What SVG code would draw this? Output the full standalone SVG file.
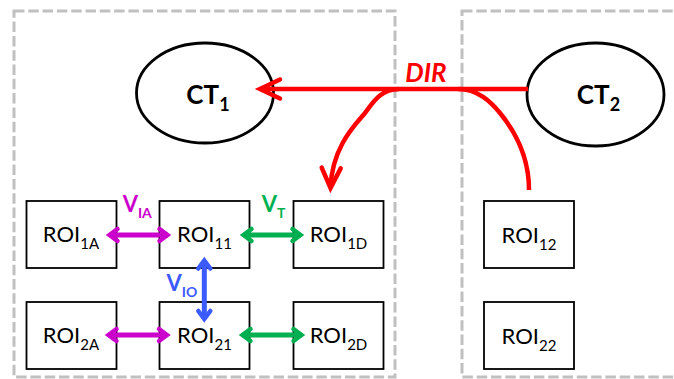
<svg xmlns="http://www.w3.org/2000/svg" width="674" height="379" viewBox="0 0 674 379">
  <style>
    .frame { fill: none; stroke: #c0c0c0; stroke-width: 3; stroke-dasharray: 10.5 3.8; }
    .ct { fill: #ffffff; stroke: #000000; stroke-width: 2.8; }
    .roi { fill: #ffffff; stroke: #000000; stroke-width: 1.8; }
    .ctlab { font-family: Lato, "Liberation Sans", sans-serif; font-weight: bold; font-size: 26px; fill: #000000; }
    .roilab { font-family: Lato, "Liberation Sans", sans-serif; font-size: 22px; fill: #000000; }
    .vlab { font-family: Lato, "Liberation Sans", sans-serif; font-weight: bold; font-size: 22px; }
    .dir { font-family: Lato, "Liberation Sans", sans-serif; font-weight: bold; font-style: italic; font-size: 26px; fill: #ff0000; }
    .red { fill: none; stroke: #ff0000; stroke-width: 4.5; }
    .mag { fill: none; stroke: #cc00cc; stroke-width: 5; }
    .grn { fill: none; stroke: #00b050; stroke-width: 5; }
    .blu { fill: none; stroke: #3b5bff; stroke-width: 5; }
  </style>
  <defs>
    <marker id="hRed" markerUnits="userSpaceOnUse" viewBox="-30 -15 40 30" markerWidth="40" markerHeight="30" refX="0" refY="0" orient="auto-start-reverse" overflow="visible">
      <path d="M -20 -9.5 L 0 0 L -20 9.5" fill="none" stroke="#ff0000" stroke-width="4.5" stroke-linecap="round" stroke-linejoin="miter"/>
    </marker>
    <marker id="hMag" markerUnits="userSpaceOnUse" viewBox="-15 -12 25 24" markerWidth="25" markerHeight="24" refX="0" refY="0" orient="auto-start-reverse" overflow="visible">
      <path d="M -8 -6 L 0 0 L -8 6" fill="none" stroke="#cc00cc" stroke-width="4.5" stroke-linecap="round" stroke-linejoin="miter"/>
    </marker>
    <marker id="hGrn" markerUnits="userSpaceOnUse" viewBox="-15 -12 25 24" markerWidth="25" markerHeight="24" refX="0" refY="0" orient="auto-start-reverse" overflow="visible">
      <path d="M -8 -6 L 0 0 L -8 6" fill="none" stroke="#00b050" stroke-width="4.5" stroke-linecap="round" stroke-linejoin="miter"/>
    </marker>
    <marker id="hBlu" markerUnits="userSpaceOnUse" viewBox="-15 -12 25 24" markerWidth="25" markerHeight="24" refX="0" refY="0" orient="auto-start-reverse" overflow="visible">
      <path d="M -8 -6 L 0 0 L -8 6" fill="none" stroke="#3b5bff" stroke-width="4.5" stroke-linecap="round" stroke-linejoin="miter"/>
    </marker>
  </defs>

  <g id="frames">
    <rect class="frame" x="14" y="11" width="381" height="366"/>
    <rect class="frame" x="462" y="11" width="230" height="366"/>
  </g>

  <g id="ct1">
    <ellipse class="ct" cx="205" cy="93" rx="68.5" ry="50"/>
    <text class="ctlab" x="208" y="104" text-anchor="middle">CT<tspan font-size="18" dy="7">1</tspan></text>
  </g>
  <g id="ct2">
    <ellipse class="ct" cx="595.5" cy="94.5" rx="68.5" ry="51.5"/>
    <text class="ctlab" x="598.5" y="104" text-anchor="middle">CT<tspan font-size="18" dy="7">2</tspan></text>
  </g>

  <g id="roi1a">
    <rect class="roi" x="26.5" y="201" width="90" height="67"/>
    <text class="roilab" x="71" y="242" text-anchor="middle">ROI<tspan font-size="15" dy="7">1A</tspan></text>
  </g>
  <g id="roi11">
    <rect class="roi" x="159.5" y="201" width="90" height="67"/>
    <text class="roilab" x="204.5" y="242" text-anchor="middle">ROI<tspan font-size="15" dy="7">11</tspan></text>
  </g>
  <g id="roi1d">
    <rect class="roi" x="293.5" y="201" width="90" height="67"/>
    <text class="roilab" x="338.5" y="242" text-anchor="middle">ROI<tspan font-size="15" dy="7">1D</tspan></text>
  </g>
  <g id="roi12">
    <rect class="roi" x="484" y="201" width="90" height="67"/>
    <text class="roilab" x="529" y="243" text-anchor="middle">ROI<tspan font-size="15" dy="7">12</tspan></text>
  </g>
  <g id="roi2a">
    <rect class="roi" x="26.5" y="302" width="90" height="67"/>
    <text class="roilab" x="71" y="343" text-anchor="middle">ROI<tspan font-size="15" dy="7">2A</tspan></text>
  </g>
  <g id="roi21">
    <rect class="roi" x="159.5" y="302" width="90" height="67"/>
    <text class="roilab" x="204.5" y="343" text-anchor="middle">ROI<tspan font-size="15" dy="7">21</tspan></text>
  </g>
  <g id="roi2d">
    <rect class="roi" x="293.5" y="302" width="90" height="67"/>
    <text class="roilab" x="338.5" y="343" text-anchor="middle">ROI<tspan font-size="15" dy="7">2D</tspan></text>
  </g>
  <g id="roi22">
    <rect class="roi" x="484" y="302" width="90" height="67"/>
    <text class="roilab" x="529" y="344" text-anchor="middle">ROI<tspan font-size="15" dy="7">22</tspan></text>
  </g>

  <g id="connectors">
    <path class="red" d="M 528 89 L 260 89" marker-end="url(#hRed)"/>
    <path class="red" d="M 529 190 C 529 150, 509 124, 500 113 C 491 102, 478 89, 458 89"/>
    <path class="red" d="M 399 89 C 380 89, 372 104, 365 113 C 358 122, 332 145, 330.5 188" marker-end="url(#hRed)"/>
    <text class="dir" x="426" y="81.7" text-anchor="middle">DIR</text>

    <path class="mag" d="M 109.5 235 L 167.5 235" marker-start="url(#hMag)" marker-end="url(#hMag)"/>
    <path class="mag" d="M 108.5 335 L 167 335" marker-start="url(#hMag)" marker-end="url(#hMag)"/>
    <path class="grn" d="M 243.5 235 L 300.5 235" marker-start="url(#hGrn)" marker-end="url(#hGrn)"/>
    <path class="grn" d="M 242.5 335 L 301.5 335" marker-start="url(#hGrn)" marker-end="url(#hGrn)"/>
    <path class="blu" d="M 204.3 260.5 L 204.3 319" marker-start="url(#hBlu)" marker-end="url(#hBlu)"/>

    <text class="vlab" x="122.7" y="212.3" fill="#cc00cc">V<tspan font-size="14" dy="6">IA</tspan></text>
    <text class="vlab" x="261.7" y="212.3" fill="#00b050">V<tspan font-size="14" dy="6">T</tspan></text>
    <text class="vlab" x="166.5" y="290.7" fill="#3b5bff">V<tspan font-size="14" dy="6">IO</tspan></text>
  </g>
</svg>
